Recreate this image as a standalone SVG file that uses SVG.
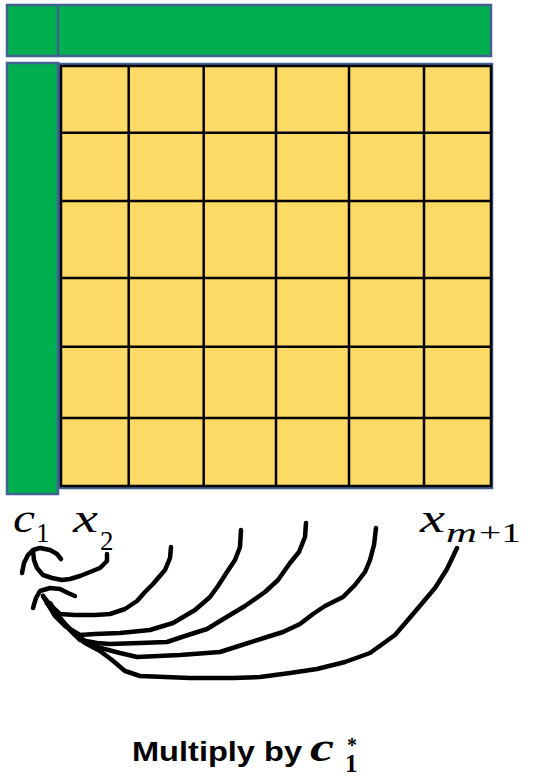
<svg xmlns="http://www.w3.org/2000/svg" width="534" height="776" viewBox="0 0 534 776">
<style>
.g{fill:#00B050;stroke:#41618F;stroke-width:2.5}
.y{fill:#FDD966;stroke:#41618F;stroke-width:2.5}
.gl{stroke:#000;stroke-width:2.5;fill:none}
.ink{fill:none;stroke:#000;stroke-width:4.5;stroke-linecap:round;stroke-linejoin:round}
.m{font-family:"Liberation Serif","DejaVu Serif",serif;font-style:italic;fill:#000}
.mr{font-family:"Liberation Serif","DejaVu Serif",serif;fill:#000}
.t{font-family:"Liberation Sans",Arial,sans-serif;font-weight:bold;fill:#000}
</style>
<rect width="534" height="776" fill="#fff"/>
<g id="top-bar">
<rect class="g" x="7" y="5" width="484" height="51"/>
<line x1="58" y1="5" x2="58" y2="56" stroke="#41618F" stroke-width="2.5"/>
</g>
<g id="left-column">
<rect class="g" x="7" y="63" width="51" height="431"/>
</g>
<g id="matrix">
<rect class="y" x="60" y="64" width="432" height="424"/>
<g class="gl">
<rect x="61" y="66" width="430" height="420"/>
<line x1="128.7" y1="66" x2="128.7" y2="486"/>
<line x1="203.7" y1="66" x2="203.7" y2="486"/>
<line x1="276" y1="66" x2="276" y2="486"/>
<line x1="349" y1="66" x2="349" y2="486"/>
<line x1="424" y1="66" x2="424" y2="486"/>
<line x1="61" y1="132.7" x2="491" y2="132.7"/>
<line x1="61" y1="201" x2="491" y2="201"/>
<line x1="61" y1="278" x2="491" y2="278"/>
<line x1="61" y1="346.7" x2="491" y2="346.7"/>
<line x1="61" y1="418" x2="491" y2="418"/>
</g>
</g>
<g id="labels">
<text class="m" x="13" y="532" font-size="40" textLength="22" lengthAdjust="spacingAndGlyphs">c</text>
<text class="mr" x="36" y="542" font-size="27">1</text>
<text class="m" x="73" y="532" font-size="40" textLength="25" lengthAdjust="spacingAndGlyphs">x</text>
<text class="mr" x="100" y="550" font-size="27">2</text>
<text class="m" x="420" y="532" font-size="40" textLength="25" lengthAdjust="spacingAndGlyphs">x</text>
<text class="m" x="446" y="542" font-size="28" textLength="31" lengthAdjust="spacingAndGlyphs">m</text>
<text class="mr" x="479" y="542" font-size="27" textLength="42" lengthAdjust="spacingAndGlyphs">+1</text>
</g>
<g id="connectors">
<path class="ink" d="M107,554 L107,561 L100,568 L90,572 L80,576 L70,579 L62,580 L52,578 L43,575 L37,568 L34,560 L33,551"/>
<path class="ink" d="M22,573 L24,563 L28,555 L33,550 L40,548 L50,550 L57,554 L61,559"/>
<path class="ink" d="M33,608 L36,598 L40,591 L50,588 L60,589 L68,593 L75,596"/>
<path class="ink" d="M171,547 L170,558 L165,570 L153,584 L145,592 L137,601 L125,609 L110,614 L95,615 L75,615 L60,614 L50,605 L43,596"/>
<path class="ink" d="M241,530 L240,547 L235,560 L227,572 L218,586 L210,597 L195,610 L173,623 L150,630 L120,633 L95,634 L80,635 L65,626 L55,616 L43,596"/>
<path class="ink" d="M306,523 L305,537 L299,552 L290,563 L278,580 L265,592 L245,606 L225,618 L207,629 L185,636 L167,642 L140,643 L110,644 L97,643 L80,640 L70,630 L60,618 L50,603"/>
<path class="ink" d="M376,528 L374,545 L370,560 L365,572 L355,585 L343,597 L325,606 L313,614 L300,624 L283,632 L267,637 L245,644 L220,652 L180,655 L137,657 L120,653 L97,647 L85,641 L72,631 L60,620 L47,603"/>
<path class="ink" d="M457,548 L447,569 L435,588 L413,614 L395,635 L370,653 L345,662 L317,669 L290,673 L260,677 L233,678 L190,678 L140,676 L125,671 L112,660 L100,651 L85,643 L72,632 L60,618 L47,603"/>
</g>
<g id="caption">
<text class="t" x="132" y="761" font-size="28" textLength="170" lengthAdjust="spacingAndGlyphs">Multiply by</text>
<text class="m" x="310" y="761" font-size="40" font-weight="bold" textLength="24" lengthAdjust="spacingAndGlyphs">c</text>
<text class="mr" x="345" y="772" font-size="25" font-weight="bold">1</text>
<text class="mr" x="347" y="752" font-size="20" font-weight="bold">*</text>
</g>
</svg>
